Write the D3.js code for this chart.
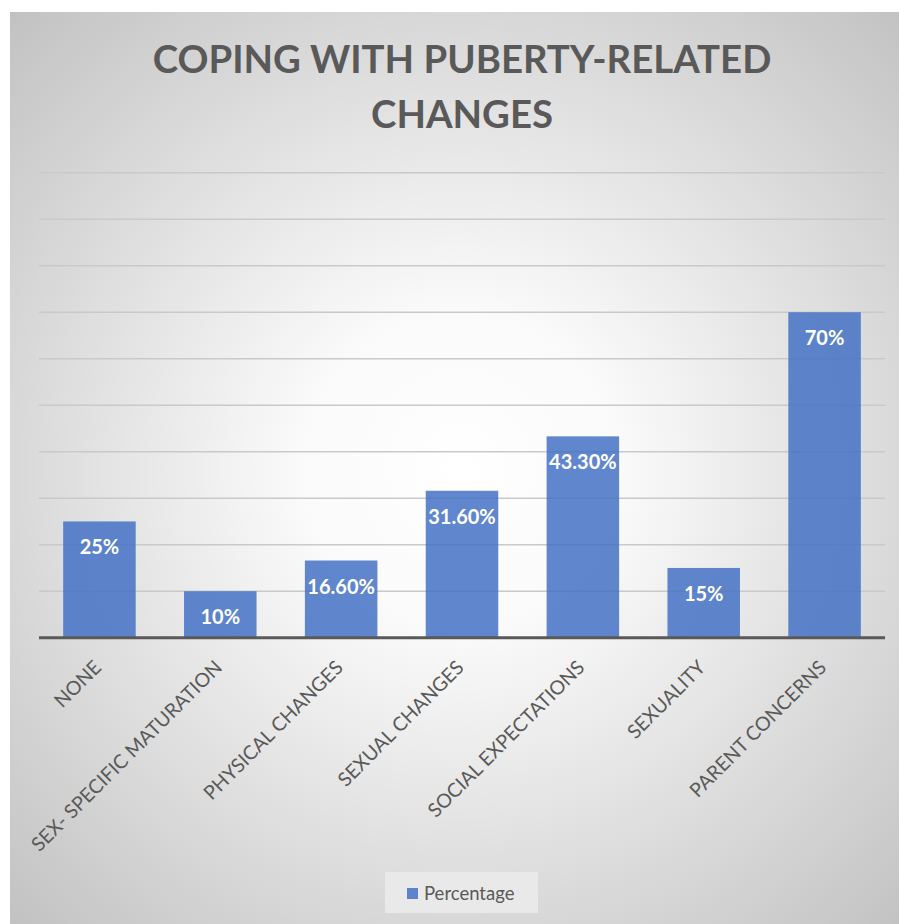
<!DOCTYPE html>
<html>
<head>
<meta charset="utf-8">
<script src="https://cdn.jsdelivr.net/npm/d3@7"></script>
<style>
  html, body { margin: 0; padding: 0; background: #ffffff; }
  svg { display: block; }
</style>
</head>
<body>
<script>
// Chart data
const categories = [
  "NONE",
  "SEX- SPECIFIC MATURATION",
  "PHYSICAL CHANGES",
  "SEXUAL CHANGES",
  "SOCIAL EXPECTATIONS",
  "SEXUALITY",
  "PARENT CONCERNS"
];
const percentages = [25, 10, 16.6, 31.6, 43.3, 15, 70];
const gridTicks = [10, 20, 30, 40, 50, 60, 70, 80, 90, 100];
const titleLines = ["COPING WITH PUBERTY-RELATED", "CHANGES"];
const seriesName = "Percentage";

const W = 899, H = 924;
const textColor = "#595959";
const barColor = "#4472C4";
const fontFamily = "Lato, 'Open Sans', sans-serif";

const svg = d3.select("body").append("svg")
  .attr("width", W).attr("height", H);

// Radial background of the chart area
const defs = svg.append("defs");
const grad = defs.append("radialGradient")
  .attr("id", "bg")
  .attr("gradientUnits", "userSpaceOnUse")
  .attr("cx", 460).attr("cy", 470).attr("r", 640);
grad.append("stop").attr("offset", "0%").attr("stop-color", "#ffffff");
grad.append("stop").attr("offset", "25%").attr("stop-color", "#fafafa");
grad.append("stop").attr("offset", "100%").attr("stop-color", "#c2c2c2");

svg.append("rect")
  .attr("x", 10).attr("y", 12)
  .attr("width", W - 10).attr("height", H - 12)
  .attr("fill", "url(#bg)");

// Scales
const x = d3.scaleBand()
  .domain(categories)
  .range([39, 885])
  .paddingInner(0.4)
  .paddingOuter(0.2);

const y = d3.scaleLinear()
  .domain([0, 100])
  .range([637.7, 172.7]);

// Title (two centred lines, slightly condensed)
const title = svg.append("g").attr("class", "title");
const titleCx = 462;
const titleBase = [73, 128];
let titleScale = 1;
titleLines.forEach((line, i) => {
  const t = title.append("text")
    .attr("text-anchor", "middle")
    .attr("font-family", fontFamily)
    .attr("font-weight", "bold")
    .attr("font-size", 38)
    .attr("fill", textColor)
    .text(line);
  if (i === 0) {
    const len = t.node().getComputedTextLength();
    titleScale = 619 / len;
  }
  t.attr("transform", `translate(${titleCx},${titleBase[i]}) scale(${titleScale},1)`);
});

// Gridlines
svg.append("g")
  .attr("class", "grid")
  .selectAll("line")
  .data(gridTicks)
  .join("line")
  .attr("x1", 39).attr("x2", 885)
  .attr("y1", d => y(d)).attr("y2", d => y(d))
  .attr("stroke", "#c9c9c9")
  .attr("stroke-width", 1.5);

// Bars
const bars = svg.append("g").attr("class", "bars");
bars.selectAll("rect")
  .data(percentages)
  .join("rect")
  .attr("x", (d, i) => x(categories[i]))
  .attr("width", x.bandwidth())
  .attr("y", d => y(d))
  .attr("height", d => y(0) - y(d))
  .attr("fill", barColor)
  .attr("fill-opacity", 0.85);

// Value labels inside the top of each bar
const fmt = v => (Number.isInteger(v) ? v.toString() : v.toFixed(2)) + "%";
bars.selectAll("text")
  .data(percentages)
  .join("text")
  .attr("x", (d, i) => x(categories[i]) + x.bandwidth() / 2)
  .attr("y", d => y(d) + 33)
  .attr("text-anchor", "middle")
  .attr("font-family", fontFamily)
  .attr("font-weight", "bold")
  .attr("font-size", 20)
  .attr("fill", "#ffffff")
  .text(d => fmt(d));

// Category axis
const xAxis = svg.append("g")
  .attr("class", "x-axis")
  .attr("transform", `translate(0,${y(0)})`)
  .call(d3.axisBottom(x).tickSize(0).tickPadding(0));
xAxis.select(".domain")
  .attr("d", "M39,0H885")
  .attr("stroke", textColor)
  .attr("stroke-width", 3);
xAxis.selectAll(".tick text")
  .attr("font-family", fontFamily)
  .attr("font-size", 19.5)
  .attr("fill", textColor)
  .attr("text-anchor", "end")
  .attr("dy", 0)
  .attr("x", 0).attr("y", 0)
  .attr("transform", "translate(3,31) rotate(-45)");

// Legend
const legend = svg.append("g").attr("class", "legend");
legend.append("rect")
  .attr("x", 385).attr("y", 872)
  .attr("width", 153).attr("height", 41)
  .attr("fill", "#ececec")
  .attr("fill-opacity", 0.8);
legend.append("rect")
  .attr("x", 407).attr("y", 888)
  .attr("width", 11).attr("height", 11)
  .attr("fill", barColor)
  .attr("fill-opacity", 0.85);
legend.append("text")
  .attr("x", 424).attr("y", 900)
  .attr("font-family", fontFamily)
  .attr("font-size", 18.5)
  .attr("fill", textColor)
  .text(seriesName);
</script>
</body>
</html>
